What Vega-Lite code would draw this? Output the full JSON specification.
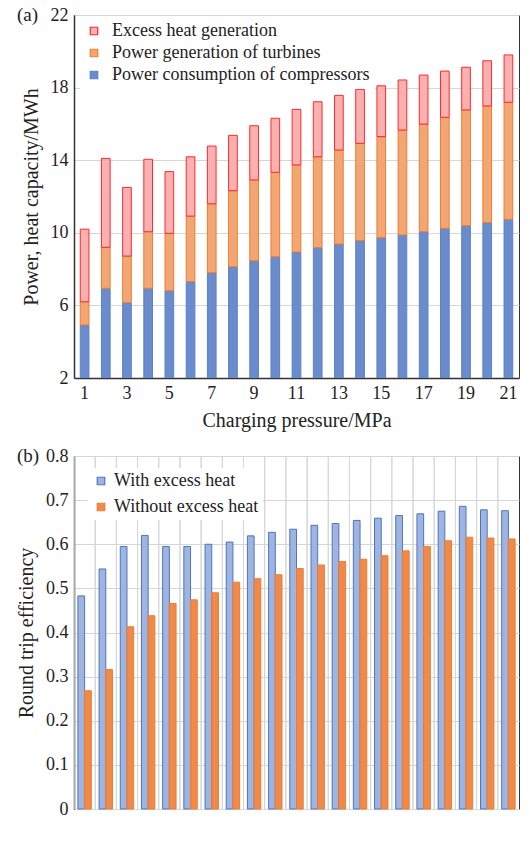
{
  "$schema": "https://vega.github.io/schema/vega-lite/v6.json",
  "padding": {"left": 16, "top": 5, "right": 2, "bottom": 5},
  "background": "white",
  "config": {
    "font": "Liberation Serif, DejaVu Serif, serif",
    "view": {"stroke": "#333333", "strokeWidth": 1},
    "axis": {
      "labelFont": "Liberation Serif, DejaVu Serif, serif",
      "titleFont": "Liberation Serif, DejaVu Serif, serif",
      "labelFontSize": 18,
      "titleFontSize": 20,
      "titleFontWeight": "normal",
      "labelColor": "#222222",
      "titleColor": "#222222",
      "domainColor": "#333333",
      "domainWidth": 1.5,
      "ticks": false,
      "gridColor": "#d6d6d6",
      "gridWidth": 1,
      "labelPadding": 6
    },
    "legend": {
      "labelFont": "Liberation Serif, DejaVu Serif, serif",
      "labelFontSize": 18,
      "labelColor": "#222222",
      "labelLimit": 400
    },
    "title": {"font": "Liberation Serif, DejaVu Serif, serif", "fontSize": 19, "fontWeight": "normal", "color": "#222222"}
  },
  "spacing": 15,
  "resolve": {"scale": {"fill": "independent", "stroke": "independent", "x": "independent", "y": "independent"}, "legend": {"fill": "independent", "stroke": "independent"}},
  "vconcat": [
    {
      "width": 445,
      "height": 363,
      "title": {"text": "(a)", "anchor": "start", "frame": "group", "dx": -57, "dy": 19, "offset": 0},
      "data": {
        "values": [
          {"p": 1, "s": "Power consumption of compressors", "k": 1, "v": 4.92},
          {"p": 2, "s": "Power consumption of compressors", "k": 1, "v": 6.94},
          {"p": 3, "s": "Power consumption of compressors", "k": 1, "v": 6.15},
          {"p": 4, "s": "Power consumption of compressors", "k": 1, "v": 6.94},
          {"p": 5, "s": "Power consumption of compressors", "k": 1, "v": 6.81},
          {"p": 6, "s": "Power consumption of compressors", "k": 1, "v": 7.31},
          {"p": 7, "s": "Power consumption of compressors", "k": 1, "v": 7.80},
          {"p": 8, "s": "Power consumption of compressors", "k": 1, "v": 8.13},
          {"p": 9, "s": "Power consumption of compressors", "k": 1, "v": 8.46},
          {"p": 10, "s": "Power consumption of compressors", "k": 1, "v": 8.68},
          {"p": 11, "s": "Power consumption of compressors", "k": 1, "v": 8.94},
          {"p": 12, "s": "Power consumption of compressors", "k": 1, "v": 9.18},
          {"p": 13, "s": "Power consumption of compressors", "k": 1, "v": 9.38},
          {"p": 14, "s": "Power consumption of compressors", "k": 1, "v": 9.57},
          {"p": 15, "s": "Power consumption of compressors", "k": 1, "v": 9.73},
          {"p": 16, "s": "Power consumption of compressors", "k": 1, "v": 9.88},
          {"p": 17, "s": "Power consumption of compressors", "k": 1, "v": 10.06},
          {"p": 18, "s": "Power consumption of compressors", "k": 1, "v": 10.25},
          {"p": 19, "s": "Power consumption of compressors", "k": 1, "v": 10.39},
          {"p": 20, "s": "Power consumption of compressors", "k": 1, "v": 10.56},
          {"p": 21, "s": "Power consumption of compressors", "k": 1, "v": 10.74},
          {"p": 1, "s": "Power generation of turbines", "k": 2, "v": 1.28},
          {"p": 2, "s": "Power generation of turbines", "k": 2, "v": 2.26},
          {"p": 3, "s": "Power generation of turbines", "k": 2, "v": 2.57},
          {"p": 4, "s": "Power generation of turbines", "k": 2, "v": 3.12},
          {"p": 5, "s": "Power generation of turbines", "k": 2, "v": 3.16},
          {"p": 6, "s": "Power generation of turbines", "k": 2, "v": 3.61},
          {"p": 7, "s": "Power generation of turbines", "k": 2, "v": 3.80},
          {"p": 8, "s": "Power generation of turbines", "k": 2, "v": 4.19},
          {"p": 9, "s": "Power generation of turbines", "k": 2, "v": 4.45},
          {"p": 10, "s": "Power generation of turbines", "k": 2, "v": 4.65},
          {"p": 11, "s": "Power generation of turbines", "k": 2, "v": 4.80},
          {"p": 12, "s": "Power generation of turbines", "k": 2, "v": 5.01},
          {"p": 13, "s": "Power generation of turbines", "k": 2, "v": 5.18},
          {"p": 14, "s": "Power generation of turbines", "k": 2, "v": 5.36},
          {"p": 15, "s": "Power generation of turbines", "k": 2, "v": 5.57},
          {"p": 16, "s": "Power generation of turbines", "k": 2, "v": 5.78},
          {"p": 17, "s": "Power generation of turbines", "k": 2, "v": 5.93},
          {"p": 18, "s": "Power generation of turbines", "k": 2, "v": 6.11},
          {"p": 19, "s": "Power generation of turbines", "k": 2, "v": 6.38},
          {"p": 20, "s": "Power generation of turbines", "k": 2, "v": 6.43},
          {"p": 21, "s": "Power generation of turbines", "k": 2, "v": 6.45},
          {"p": 1, "s": "Excess heat generation", "k": 3, "v": 4.0},
          {"p": 2, "s": "Excess heat generation", "k": 3, "v": 4.9},
          {"p": 3, "s": "Excess heat generation", "k": 3, "v": 3.78},
          {"p": 4, "s": "Excess heat generation", "k": 3, "v": 3.99},
          {"p": 5, "s": "Excess heat generation", "k": 3, "v": 3.4},
          {"p": 6, "s": "Excess heat generation", "k": 3, "v": 3.27},
          {"p": 7, "s": "Excess heat generation", "k": 3, "v": 3.18},
          {"p": 8, "s": "Excess heat generation", "k": 3, "v": 3.05},
          {"p": 9, "s": "Excess heat generation", "k": 3, "v": 2.99},
          {"p": 10, "s": "Excess heat generation", "k": 3, "v": 2.98},
          {"p": 11, "s": "Excess heat generation", "k": 3, "v": 3.06},
          {"p": 12, "s": "Excess heat generation", "k": 3, "v": 3.03},
          {"p": 13, "s": "Excess heat generation", "k": 3, "v": 3.01},
          {"p": 14, "s": "Excess heat generation", "k": 3, "v": 2.97},
          {"p": 15, "s": "Excess heat generation", "k": 3, "v": 2.80},
          {"p": 16, "s": "Excess heat generation", "k": 3, "v": 2.76},
          {"p": 17, "s": "Excess heat generation", "k": 3, "v": 2.70},
          {"p": 18, "s": "Excess heat generation", "k": 3, "v": 2.55},
          {"p": 19, "s": "Excess heat generation", "k": 3, "v": 2.35},
          {"p": 20, "s": "Excess heat generation", "k": 3, "v": 2.49},
          {"p": 21, "s": "Excess heat generation", "k": 3, "v": 2.61}
        ]
      },
      "mark": {"type": "bar", "width": {"band": 0.41}, "strokeWidth": 1, "clip": true},
      "encoding": {
        "x": {
          "field": "p", "type": "ordinal",
          "scale": {"paddingInner": 0, "paddingOuter": 0},
          "axis": {"labelAngle": 0, "labelExpr": "datum.value % 2 == 1 ? datum.label : ''", "title": "Charging pressure/MPa", "titlePadding": 8}
        },
        "y": {
          "field": "v", "type": "quantitative", "stack": "zero",
          "scale": {"domain": [2, 22], "nice": false},
          "axis": {"values": [2, 6, 10, 14, 18, 22], "grid": true, "title": "Power, heat capacity/MWh", "titlePadding": 9}
        },
        "fill": {
          "field": "s", "type": "nominal",
          "scale": {
            "domain": ["Excess heat generation", "Power generation of turbines", "Power consumption of compressors"],
            "range": ["#f9b0b0", "#f2a673", "#6a8bcc"]
          },
          "legend": {
            "title": null, "orient": "none", "legendX": 6, "legendY": 2,
            "fillColor": "white", "padding": 5, "symbolType": "square", "symbolSize": 56,
            "symbolStrokeWidth": 1.2, "rowPadding": 4, "labelOffset": 9
          }
        },
        "stroke": {
          "field": "s", "type": "nominal",
          "scale": {
            "domain": ["Excess heat generation", "Power generation of turbines", "Power consumption of compressors"],
            "range": ["#ff2a2a", "#ed7d31", "#5b82c8"]
          },
          "legend": {
            "title": null, "orient": "none", "legendX": 6, "legendY": 2,
            "fillColor": "white", "padding": 5, "symbolType": "square", "symbolSize": 56,
            "symbolStrokeWidth": 1.2, "rowPadding": 4, "labelOffset": 9
          }
        },
        "order": {"field": "k", "type": "quantitative"}
      }
    },
    {
      "width": 445,
      "height": 353,
      "title": {"text": "(b)", "anchor": "start", "frame": "group", "dx": -57, "dy": 19, "offset": 0},
      "data": {
        "values": [
          {"p": 1, "s": "With excess heat", "v": 0.483},
          {"p": 2, "s": "With excess heat", "v": 0.544},
          {"p": 3, "s": "With excess heat", "v": 0.595},
          {"p": 4, "s": "With excess heat", "v": 0.620},
          {"p": 5, "s": "With excess heat", "v": 0.595},
          {"p": 6, "s": "With excess heat", "v": 0.595},
          {"p": 7, "s": "With excess heat", "v": 0.600},
          {"p": 8, "s": "With excess heat", "v": 0.605},
          {"p": 9, "s": "With excess heat", "v": 0.619},
          {"p": 10, "s": "With excess heat", "v": 0.627},
          {"p": 11, "s": "With excess heat", "v": 0.634},
          {"p": 12, "s": "With excess heat", "v": 0.643},
          {"p": 13, "s": "With excess heat", "v": 0.647},
          {"p": 14, "s": "With excess heat", "v": 0.654},
          {"p": 15, "s": "With excess heat", "v": 0.659},
          {"p": 16, "s": "With excess heat", "v": 0.665},
          {"p": 17, "s": "With excess heat", "v": 0.669},
          {"p": 18, "s": "With excess heat", "v": 0.675},
          {"p": 19, "s": "With excess heat", "v": 0.686},
          {"p": 20, "s": "With excess heat", "v": 0.678},
          {"p": 21, "s": "With excess heat", "v": 0.676},
          {"p": 1, "s": "Without excess heat", "v": 0.268},
          {"p": 2, "s": "Without excess heat", "v": 0.316},
          {"p": 3, "s": "Without excess heat", "v": 0.413},
          {"p": 4, "s": "Without excess heat", "v": 0.438},
          {"p": 5, "s": "Without excess heat", "v": 0.466},
          {"p": 6, "s": "Without excess heat", "v": 0.474},
          {"p": 7, "s": "Without excess heat", "v": 0.490},
          {"p": 8, "s": "Without excess heat", "v": 0.514},
          {"p": 9, "s": "Without excess heat", "v": 0.522},
          {"p": 10, "s": "Without excess heat", "v": 0.531},
          {"p": 11, "s": "Without excess heat", "v": 0.545},
          {"p": 12, "s": "Without excess heat", "v": 0.553},
          {"p": 13, "s": "Without excess heat", "v": 0.561},
          {"p": 14, "s": "Without excess heat", "v": 0.566},
          {"p": 15, "s": "Without excess heat", "v": 0.574},
          {"p": 16, "s": "Without excess heat", "v": 0.585},
          {"p": 17, "s": "Without excess heat", "v": 0.595},
          {"p": 18, "s": "Without excess heat", "v": 0.608},
          {"p": 19, "s": "Without excess heat", "v": 0.616},
          {"p": 20, "s": "Without excess heat", "v": 0.614},
          {"p": 21, "s": "Without excess heat", "v": 0.612}
        ]
      },
      "layer": [
        {
          "mark": {"type": "rule", "color": "#d6d6d6", "strokeWidth": 1},
          "encoding": {
            "x": {"field": "p", "type": "ordinal", "bandPosition": 0, "axis": null}
          }
        },
        {
          "mark": {"type": "bar", "strokeWidth": 1},
          "encoding": {
            "x": {
              "field": "p", "type": "ordinal",
              "scale": {"paddingInner": 0, "paddingOuter": 0},
              "axis": {"labelAngle": 0, "bandPosition": 0.5, "labelExpr": "datum.value % 2 == 1 ? datum.label : ''", "title": "Charging pressure/MPa", "titlePadding": 8}
            },
            "xOffset": {
              "field": "s", "type": "nominal",
              "scale": {"paddingInner": 0, "paddingOuter": 0.58}
            },
            "y": {
              "field": "v", "type": "quantitative",
              "scale": {"domain": [0, 0.8], "nice": false},
              "axis": {"values": [0, 0.1, 0.2, 0.3, 0.4, 0.5, 0.6, 0.7, 0.8], "format": "~g", "grid": true, "title": "Round trip efficiency", "titlePadding": 9}
            },
            "fill": {
              "field": "s", "type": "nominal",
              "scale": {"domain": ["With excess heat", "Without excess heat"], "range": ["#9fb5df", "#ef8a4a"]},
              "legend": {
                "title": null, "orient": "none", "legendX": 14, "legendY": 12,
                "fillColor": "white", "padding": 4, "symbolType": "square", "symbolSize": 56,
                "symbolStrokeWidth": 1.2, "rowPadding": 8, "labelOffset": 4
              }
            },
            "stroke": {
              "field": "s", "type": "nominal",
              "scale": {"domain": ["With excess heat", "Without excess heat"], "range": ["#4a76c6", "#ed7d31"]},
              "legend": {
                "title": null, "orient": "none", "legendX": 14, "legendY": 12,
                "fillColor": "white", "padding": 4, "symbolType": "square", "symbolSize": 56,
                "symbolStrokeWidth": 1.2, "rowPadding": 8, "labelOffset": 4
              }
            }
          }
        }
      ]
    }
  ]
}
